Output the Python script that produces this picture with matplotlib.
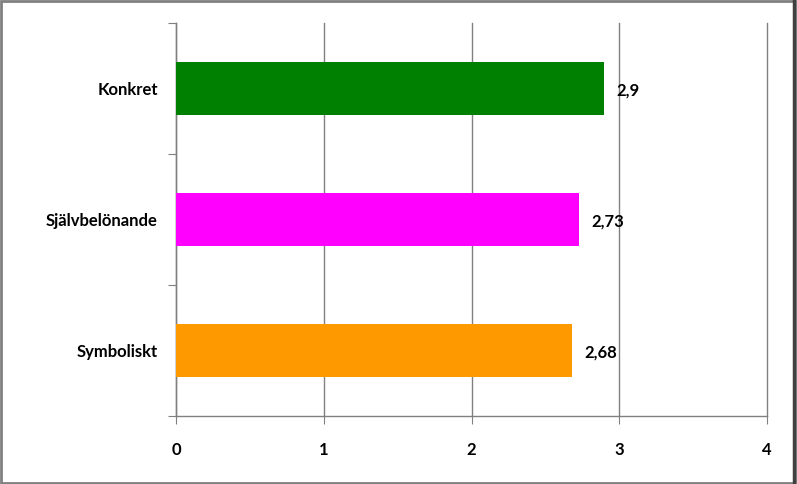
import matplotlib
matplotlib.use("Agg")
import matplotlib.pyplot as plt
from matplotlib.patches import Rectangle
from matplotlib.lines import Line2D

categories = ["Konkret", "Självbelönande", "Symboliskt"]
values = [2.9, 2.73, 2.68]
value_labels = ["2,9", "2,73", "2,68"]
colors = ["#008000", "#FF00FF", "#FF9900"]
xticks = [0, 1, 2, 3, 4]

plt.rcParams['font.family'] = ['Lato', 'DejaVu Sans']

fig = plt.figure(figsize=(7.97, 4.84), dpi=100)
ax = fig.add_axes([176/797, 68/484, 591/797, 393/484])

ypos = [2, 1, 0]
ax.barh(ypos, values, height=0.4, color=colors, zorder=3)
for y, v, lab in zip(ypos, values, value_labels):
    ax.annotate(lab, (v, y), xytext=(12, -2), textcoords="offset pixels",
                va="center", ha="left", fontsize=12, fontweight="bold", color="black")

ax.set_xlim(0, 4)
ax.set_ylim(-0.5, 2.5)
ax.set_xticks(xticks)
ax.set_xticklabels([str(t) for t in xticks], fontsize=12, fontweight="bold")
ax.set_yticks([-0.5, 0.5, 1.5, 2.5])
ax.set_yticklabels([])
ax.set_yticks(ypos, minor=True)
ax.set_yticklabels(categories, minor=True, fontsize=12, fontweight="bold")
ax.tick_params(axis="y", which="minor", length=0, pad=13)
ax.tick_params(axis="y", which="major", length=6, color="#808080", direction="out")
ax.tick_params(axis="x", length=6, color="#808080", direction="out", pad=13)
ax.grid(axis="x", color="#808080", linewidth=1, zorder=0)
for gl in ax.get_xgridlines():
    gl.set_clip_on(False)
for s in ["top", "right"]:
    ax.spines[s].set_visible(False)
for s in ["left", "bottom"]:
    ax.spines[s].set_color("#808080")
    ax.spines[s].set_linewidth(1)

fig.patches.append(Rectangle((0.001, 0.002), 0.996, 0.995, transform=fig.transFigure,
                             fill=False, edgecolor="#808080", linewidth=2))
fig.lines.append(Line2D([0.9965, 0.9965], [0.0, 1.0], transform=fig.transFigure,
                        color="#404040", linewidth=2.5))

fig.savefig("out.png", dpi=100)
